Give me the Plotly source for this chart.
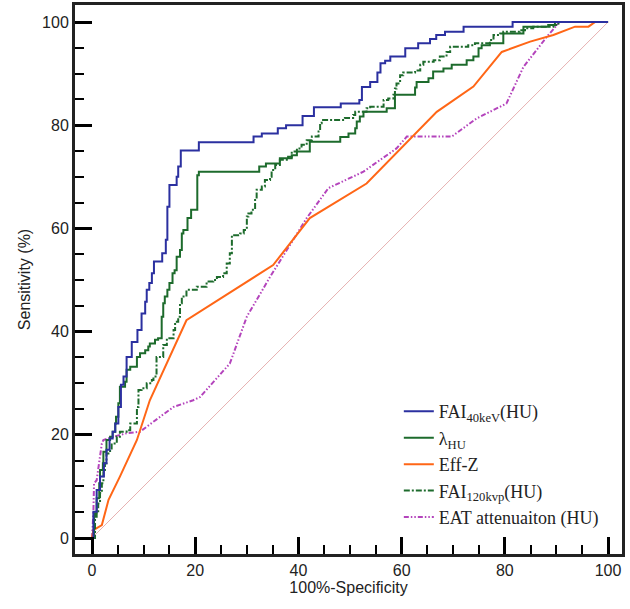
import plotly.graph_objects as go

# ROC data (100%-Specificity, Sensitivity)
fai40_x = [0, 0.26, 0.9, 1.55, 2.3, 2.8, 3.4, 4.0, 4.5, 5.1, 5.6, 6.1, 6.7, 7.7, 8.8, 9.6, 10.3, 10.6, 11.1, 11.6, 12.0, 13.6, 14.3, 14.6, 15.0, 16.4, 16.7, 17.2, 20.7, 31.3, 32.9, 36.0, 37.6, 40.8, 43.0, 48.2, 51.8, 52.3, 53.9, 55.3, 55.9, 56.8, 57.8, 60.7, 63.2, 65.5, 66.7, 68.4, 72.0, 81.5, 100]
fai40_y = [0, 5.1, 9.3, 11.9, 14.5, 17.1, 19.3, 20.6, 22.2, 25.4, 29.7, 31.3, 35.1, 38.0, 40.3, 43.5, 45.8, 48.1, 49.4, 51.3, 53.6, 55.2, 57.8, 64.2, 68.4, 70.0, 72.0, 75.1, 76.7, 77.8, 78.4, 79.4, 80.0, 81.8, 83.5, 84.2, 84.9, 87.4, 88.4, 90.2, 92.0, 92.5, 93.3, 94.9, 95.9, 96.7, 97.5, 98.1, 99.1, 100, 100]

lam_x = [0, 0.4, 0.9, 1.4, 1.55, 2.1, 2.2, 2.8, 3.5, 4.0, 4.5, 4.65, 5.1, 5.4, 6.4, 6.7, 7.4, 8.7, 9.3, 10.3, 10.9, 11.2, 12.2, 12.8, 13.5, 13.8, 14.1, 14.6, 15.0, 15.6, 16.0, 16.4, 17.05, 17.4, 17.7, 18.5, 19.2, 20.4, 20.7, 32.4, 33.7, 36.4, 38.7, 39.7, 42.2, 48.1, 49.7, 51.0, 51.3, 51.9, 52.6, 57.1, 58.7, 62.6, 62.9, 65.2, 66.1, 68.1, 69.7, 72.6, 73.9, 74.9, 75.5, 77.1, 79.7, 83.6, 88.4, 89.7, 100]
lam_y = [0, 4.1, 7.7, 10.6, 13.2, 14.5, 16.7, 19.0, 19.6, 20.6, 22.2, 23.5, 26.1, 29.3, 30.3, 32.6, 33.2, 35.1, 35.8, 36.4, 37.1, 37.7, 38.4, 38.7, 42.9, 45.5, 46.8, 48.1, 49.4, 51.3, 51.9, 54.5, 55.8, 59.0, 59.7, 62.0, 63.6, 70.3, 71.0, 72.0, 72.6, 73.6, 74.2, 74.9, 76.8, 77.7, 78.4, 79.4, 80.7, 81.7, 82.6, 83.3, 85.9, 87.3, 88.4, 89.1, 90.4, 91.0, 91.7, 92.6, 93.3, 94.9, 95.5, 95.9, 97.8, 99.1, 99.4, 100, 100]

effz_x = [0, 0.26, 1.9, 3.2, 5.4, 8.7, 11.2, 18.3, 35.1, 42.2, 53.2, 66.8, 73.9, 79.4, 84.9, 89.4, 93.6, 96.2, 97.5, 100]
effz_y = [0, 1.55, 2.5, 7.4, 11.9, 19.0, 26.7, 42.2, 52.9, 62.0, 68.7, 82.6, 87.5, 94.2, 96.2, 97.5, 99.1, 99.1, 100, 100]

fai120_x = [0, 0.58, 1.2, 1.55, 1.9, 2.2, 2.5, 2.8, 3.5, 3.8, 4.8, 5.4, 6.7, 7.4, 8.7, 9.0, 9.6, 10.6, 11.6, 11.9, 12.5, 13.8, 14.5, 15.8, 16.1, 16.7, 17.05, 17.4, 18.3, 20.3, 22.2, 23.5, 24.2, 25.4, 26.1, 26.7, 27.1, 28.7, 29.4, 30.0, 30.3, 30.9, 31.6, 31.9, 32.9, 33.5, 34.5, 34.8, 35.5, 36.4, 38.0, 38.7, 39.7, 40.6, 41.6, 42.6, 43.9, 44.2, 44.5, 49.0, 50.6, 51.0, 53.2, 53.9, 56.5, 57.4, 58.4, 58.7, 59.0, 59.7, 60.3, 62.6, 63.6, 64.2, 66.2, 67.4, 68.7, 69.4, 72.9, 74.2, 77.1, 77.8, 79.1, 79.7, 82.9, 83.9, 85.5, 89.4, 90.4, 100]
fai120_y = [0, 4.8, 6.7, 8.7, 10.6, 13.2, 14.5, 16.4, 17.1, 18.3, 19.6, 20.6, 20.9, 22.2, 25.4, 28.7, 29.0, 30.0, 30.6, 31.3, 35.1, 37.4, 38.7, 40.3, 41.9, 42.9, 45.5, 46.8, 48.1, 48.7, 49.7, 50.0, 50.6, 51.3, 53.2, 55.2, 58.7, 59.0, 59.7, 62.3, 62.9, 63.6, 65.5, 67.5, 68.1, 69.4, 70.0, 71.3, 72.3, 73.3, 73.9, 74.9, 75.5, 76.2, 77.1, 77.8, 78.8, 80.4, 81.0, 81.4, 82.0, 82.6, 83.3, 83.6, 84.9, 85.2, 85.9, 87.1, 88.1, 89.7, 90.2, 90.6, 91.7, 92.3, 92.6, 93.3, 94.2, 95.2, 95.5, 95.9, 96.5, 97.5, 97.8, 98.1, 98.4, 98.8, 99.1, 99.4, 100, 100]

eat_x = [0, 0.26, 0.39, 0.9, 1.9, 2.2, 4.1, 6.7, 9.3, 10.6, 13.2, 15.8, 19.6, 20.9, 26.7, 30.0, 34.5, 41.6, 45.8, 52.6, 59.0, 61.0, 69.7, 74.5, 80.3, 83.6, 88.1, 90.6, 100]
eat_y = [0, 4.8, 10.6, 11.2, 18.3, 19.0, 19.6, 20.3, 20.6, 21.6, 23.5, 25.4, 26.7, 27.3, 33.8, 42.9, 50.6, 62.0, 67.8, 71.0, 75.5, 77.8, 77.8, 81.3, 84.2, 91.3, 97.1, 100, 100]

ref_x = [0, 100]
ref_y = [0, 100]

names = [
    "FAI<sub>40keV</sub>(HU)",
    "λ<sub>HU</sub>",
    "Eff-Z",
    "FAI<sub>120kvp</sub>(HU)",
    "EAT attenuaiton (HU)",
]

BLUE = "#2b30a0"
GREEN = "#1d6b2c"
ORANGE = "#ff6616"
PURPLE = "#b444bc"
INK = "#222222"
SANS = "Liberation Sans, Arial"
NONE = "rgba(0,0,0,0)"

fig = go.Figure()
fig.add_trace(go.Scatter(x=ref_x, y=ref_y, mode="lines", showlegend=False,
                         line=dict(color="#e6b0b0", width=1)))
fig.add_trace(go.Scatter(x=eat_x, y=eat_y, mode="lines", name=names[4], legendrank=5,
                         line=dict(color=PURPLE, width=2, dash="5px,2px,1.5px,2px,1.5px,2px")))
fig.add_trace(go.Scatter(x=effz_x, y=effz_y, mode="lines", name=names[2], legendrank=3,
                         line=dict(color=ORANGE, width=2)))
fig.add_trace(go.Scatter(x=fai120_x, y=fai120_y, mode="lines", name=names[3], legendrank=4,
                         line=dict(color=GREEN, width=2, dash="6px,2px,2px,2px", shape="hv")))
fig.add_trace(go.Scatter(x=lam_x, y=lam_y, mode="lines", name=names[1], legendrank=2,
                         line=dict(color=GREEN, width=2, shape="hv")))
fig.add_trace(go.Scatter(x=fai40_x, y=fai40_y, mode="lines", name=names[0], legendrank=1,
                         line=dict(color=BLUE, width=2, shape="hv")))

axis_common = dict(
    dtick=20, automargin=False,
    showline=True, linewidth=3, linecolor=INK, mirror=True,
    ticks="inside", ticklen=17, tickwidth=2.5, tickcolor="#000000",
    minor=dict(dtick=5, ticks="inside", ticklen=9, tickwidth=2, tickcolor="#000000"),
    showgrid=False, zeroline=False,
    tickfont=dict(family=SANS, size=16, color=INK),
)

fig.update_xaxes(range=[-3.3, 102.7],
                 title=dict(text="100%-Specificity", font=dict(family=SANS, size=16, color=INK), standoff=4),
                 **axis_common)
fig.update_yaxes(range=[-3.1, 103.3],
                 title=dict(text="Sensitivity (%)", font=dict(family=SANS, size=16, color=INK), standoff=8),
                 **axis_common)

fig.update_layout(
    width=630, height=609,
    margin=dict(l=75, r=8, t=5, b=55, autoexpand=False),
    plot_bgcolor="white", paper_bgcolor="white",
    legend=dict(x=0.592, y=0.293, xanchor="left", yanchor="top",
                bgcolor=NONE, borderwidth=0,
                font=dict(family="Liberation Serif, Times New Roman", size=18, color=INK),
                tracegroupgap=0),
)

fig.write_html("out.html", post_script="document.body.style.margin='0px';",
               config={"displayModeBar": False})
